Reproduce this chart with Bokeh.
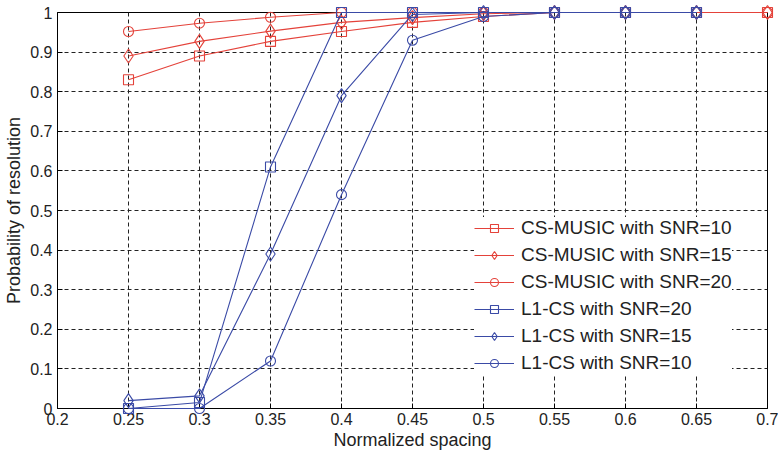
from bokeh.plotting import figure
from bokeh.models import FixedTicker, Range1d, Legend, LegendItem
from bokeh.embed import file_html
from bokeh.resources import INLINE

x_music = [0.25, 0.3, 0.35, 0.4, 0.45, 0.5, 0.55, 0.6, 0.65, 0.7]
music_snr10 = [0.83, 0.89, 0.927, 0.952, 0.975, 0.99, 1.0, 1.0, 1.0, 1.0]
music_snr15 = [0.89, 0.927, 0.953, 0.975, 0.987, 0.997, 1.0, 1.0, 1.0, 1.0]
music_snr20 = [0.952, 0.973, 0.988, 1.0, 1.0, 1.0, 1.0, 1.0, 1.0, 1.0]

x_l1 = [0.25, 0.3, 0.35, 0.4, 0.45, 0.5, 0.55, 0.6, 0.65]
l1_snr20 = [0.0, 0.015, 0.61, 1.0, 1.0, 1.0, 1.0, 1.0, 1.0]
l1_snr15 = [0.02, 0.032, 0.39, 0.79, 0.995, 1.0, 1.0, 1.0, 1.0]
l1_snr10 = [0.0, 0.0, 0.12, 0.54, 0.93, 0.99, 1.0, 1.0, 1.0]

x_ticks = [0.2, 0.25, 0.3, 0.35, 0.4, 0.45, 0.5, 0.55, 0.6, 0.65, 0.7]
x_tick_labels = ["0.2", "0.25", "0.3", "0.35", "0.4", "0.45", "0.5", "0.55", "0.6", "0.65", "0.7"]
y_ticks = [0, 0.1, 0.2, 0.3, 0.4, 0.5, 0.6, 0.7, 0.8, 0.9, 1.0]
y_tick_labels = ["0", "0.1", "0.2", "0.3", "0.4", "0.5", "0.6", "0.7", "0.8", "0.9", "1"]

RED = "#e4423a"
BLUE = "#3a4aa6"
FONT = "Liberation Sans"

p = figure(width=778, height=455, output_backend="svg", toolbar_location=None,
           x_range=Range1d(0.2, 0.7), y_range=Range1d(0, 1),
           min_border_left=57, min_border_right=11, min_border_top=12, min_border_bottom=47)

p.xaxis.ticker = FixedTicker(ticks=x_ticks)
p.yaxis.ticker = FixedTicker(ticks=y_ticks)
p.xaxis.major_label_overrides = dict(zip(x_ticks, x_tick_labels))
p.yaxis.major_label_overrides = dict(zip(y_ticks, y_tick_labels))
for ax in (p.xaxis, p.yaxis):
    ax.major_label_text_font = FONT
    ax.major_label_text_font_size = "16px"
    ax.major_label_text_color = "#222222"
    ax.axis_label_text_font = FONT
    ax.axis_label_text_font_size = "18px"
    ax.axis_label_text_font_style = "normal"
    ax.axis_label_text_color = "#222222"
    ax.major_tick_in = 5
    ax.major_tick_out = 0
    ax.minor_tick_line_color = None
    ax.axis_line_color = "black"
    ax.major_tick_line_color = "black"
p.xaxis.axis_label = "Normalized spacing"
p.yaxis.axis_label = "Probability of resolution"
p.xaxis.major_label_standoff = 4
p.yaxis.major_label_standoff = 5
p.xaxis.axis_label_standoff = 2
p.yaxis.axis_label_standoff = 3

p.grid.grid_line_color = "#222222"
p.grid.grid_line_dash = "4 3"
p.grid.grid_line_width = 1
p.outline_line_color = "black"
p.outline_line_width = 1
p.background_fill_color = "white"

items = []
series = [
    ("CS-MUSIC with SNR=10", x_music, music_snr10, RED, "square"),
    ("CS-MUSIC with SNR=15", x_music, music_snr15, RED, "diamond"),
    ("CS-MUSIC with SNR=20", x_music, music_snr20, RED, "circle"),
    ("L1-CS with SNR=20", x_l1, l1_snr20, BLUE, "square"),
    ("L1-CS with SNR=15", x_l1, l1_snr15, BLUE, "diamond"),
    ("L1-CS with SNR=10", x_l1, l1_snr10, BLUE, "circle"),
]
for label, xs, ys, col, mk in series:
    r1 = p.line(xs, ys, line_color=col, line_width=1.1, level="overlay")
    size = 14 if mk == "diamond" else 10
    r2 = p.scatter(xs, ys, marker=mk, size=size, line_color=col, fill_color=None,
                   line_width=1.1, level="overlay")
    items.append(LegendItem(label=label, renderers=[r1, r2]))

legend = Legend(items=items, location=(417, 34), glyph_width=40, glyph_height=20,
                label_height=20, spacing=5, padding=4, margin=0, label_standoff=7,
                label_text_font=FONT, label_text_font_size="19px", label_text_color="#222222",
                border_line_color=None, background_fill_color="white", background_fill_alpha=1.0)
p.add_layout(legend, "center")

open("out.html", "w").write(file_html(p, INLINE))
